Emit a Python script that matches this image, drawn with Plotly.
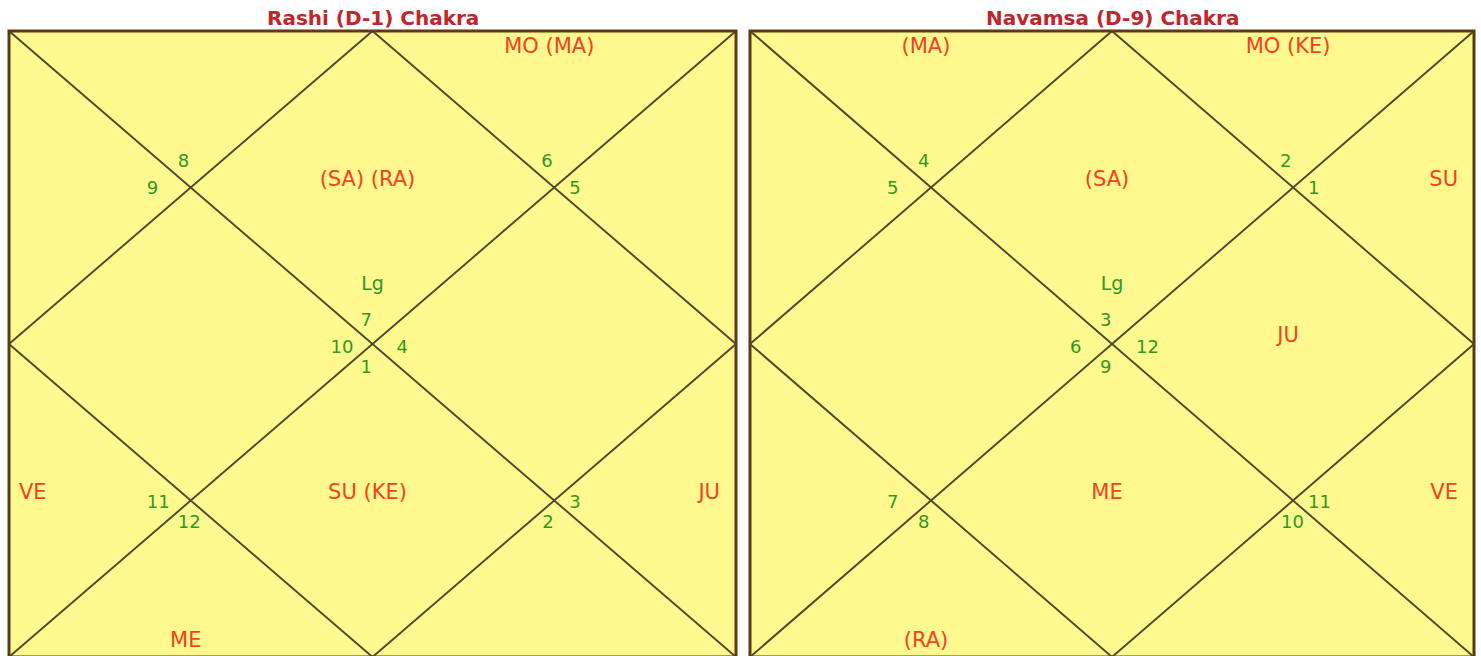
import plotly.graph_objects as go

# ---------------- data ----------------
chart_titles = ["Rashi (D-1) Chakra", "Navamsa (D-9) Chakra"]
# sign number occupying each house (house 1 .. 12)
rashi_signs = [7, 8, 9, 10, 11, 12, 1, 2, 3, 4, 5, 6]
navamsa_signs = [3, 4, 5, 6, 7, 8, 9, 10, 11, 12, 1, 2]
# planets in each house (house 1 .. 12)
rashi_planets = ["(SA) (RA)", "", "", "", "VE", "ME", "SU (KE)", "", "JU", "", "", "MO (MA)"]
navamsa_planets = ["(SA)", "(MA)", "", "", "", "(RA)", "ME", "", "VE", "JU", "SU", "MO (KE)"]
lagna_houses = [1, 1]
lagna_label = "Lg"

# ---------------- style / layout ----------------
PAGE_W, PAGE_H = 1481, 656
PANELS = [(9, 31, 736, 657), (750, 31, 1474, 657)]  # x0, y0, x1, y1 in page px
BG = "#FFF98F"
BORDER = "#5C3A16"
LINE = "#54442A"
TITLE_C = "#C0262B"
PLANET_C = "#F2431E"
NUM_C = "#2F9A1F"
FONT = "DejaVu Sans, Verdana, sans-serif"

# number placement: intersection (unit) + pixel offset, text starts at point (left aligned)
NUM_POS = {
    1: (0.5, 0.5, -12, -23), 2: (0.25, 0.25, -13, -25), 3: (0.25, 0.25, -44, 2),
    4: (0.5, 0.5, -42, 4), 5: (0.25, 0.75, -44, 3), 6: (0.25, 0.75, -13, 23),
    7: (0.5, 0.5, -12, 24), 8: (0.75, 0.75, -12, 23), 9: (0.75, 0.75, 15, 3),
    10: (0.5, 0.5, 24, 4), 11: (0.75, 0.25, 15, 2), 12: (0.75, 0.25, -13, -25),
}
# planet placement kinds
PLANET_POS = {
    1: ("diamond", 0.5, 0.25), 4: ("diamond", 0.25, 0.5), 7: ("diamond", 0.5, 0.75),
    10: ("diamond", 0.75, 0.5),
    2: ("top", 0.25, 0), 12: ("top", 0.75, 0),
    6: ("bottom", 0.25, 1), 8: ("bottom", 0.75, 1),
    3: ("left", 0, 0.25), 5: ("left", 0, 0.75),
    9: ("right", 1, 0.75), 11: ("right", 1, 0.25),
}


def to_px(panel, u, v):
    x0, y0, x1, y1 = panel
    return x0 + u * (x1 - x0), y0 + v * (y1 - y0)


def planet_anchor(panel, house):
    kind, u, v = PLANET_POS[house]
    x, y = to_px(panel, u, v)
    if kind == "diamond":
        return x - 5, y - 7, "middle center"
    if kind == "top":
        return x - 5, panel[1] + 17, "middle center"
    if kind == "bottom":
        return x - 5, panel[3] - 15, "middle center"
    if kind == "left":
        return panel[0] + 10, y - 7, "middle right"
    return panel[2] - 16, y - 7, "middle left"


fig = go.Figure()
shapes = []
annotations = []

charts = [(rashi_signs, rashi_planets), (navamsa_signs, navamsa_planets)]
for ci, (signs, planets) in enumerate(charts):
    p = PANELS[ci]
    x0, y0, x1, y1 = p
    shapes.append(dict(type="rect", x0=x0, y0=y0, x1=x1, y1=y1, fillcolor=BG,
                       line=dict(width=0), layer="below", xref="x", yref="y"))
    pts = [((0, 0), (1, 1)), ((1, 0), (0, 1)),
           ((0.5, 0), (1, 0.5)), ((1, 0.5), (0.5, 1)), ((0.5, 1), (0, 0.5)), ((0, 0.5), (0.5, 0))]
    for a, b in pts:
        ax, ay = to_px(p, *a)
        bx, by = to_px(p, *b)
        shapes.append(dict(type="line", x0=ax, y0=ay, x1=bx, y1=by,
                           line=dict(color=LINE, width=1.9), xref="x", yref="y"))
    shapes.append(dict(type="rect", x0=x0, y0=y0, x1=x1, y1=y1,
                       line=dict(color=BORDER, width=3), xref="x", yref="y"))

    # title
    tx, _ = to_px(p, 0.5, 0)
    annotations.append(dict(x=tx, y=18, xref="x", yref="y", text=chart_titles[ci],
                            showarrow=False, font=dict(family=FONT, size=20, color=TITLE_C, weight="bold")))

    # house sign numbers
    nx, ny = [], []
    for h in range(1, 13):
        iu, iv, dx, dy = NUM_POS[h]
        x, y = to_px(p, iu, iv)
        nx.append(x + dx)
        ny.append(y + dy)
    fig.add_trace(go.Scatter(x=nx, y=ny, mode="text", text=[str(s) for s in signs],
                             textposition="middle right", marker=dict(size=0),
                             textfont=dict(family=FONT, size=18, color=NUM_C),
                             hoverinfo="skip", showlegend=False, cliponaxis=False))

    # planets
    px_, py_, pt_, tp_ = [], [], [], []
    for h in range(1, 13):
        if planets[h - 1]:
            x, y, tp = planet_anchor(p, h)
            px_.append(x); py_.append(y); pt_.append(planets[h - 1]); tp_.append(tp)
    fig.add_trace(go.Scatter(x=px_, y=py_, mode="text", text=pt_, textposition=tp_,
                             marker=dict(size=0),
                             textfont=dict(family=FONT, size=21, color=PLANET_C),
                             hoverinfo="skip", showlegend=False, cliponaxis=False))

    # lagna marker
    lu, lv, _, _ = NUM_POS[lagna_houses[ci]]
    lx, ly = to_px(p, lu, lv)
    fig.add_trace(go.Scatter(x=[lx], y=[ly - 59], mode="text", text=[lagna_label],
                             textposition="middle center",
                             textfont=dict(family=FONT, size=19, color=NUM_C),
                             hoverinfo="skip", showlegend=False))

fig.update_layout(
    width=PAGE_W, height=PAGE_H,
    margin=dict(l=0, r=0, t=0, b=0),
    paper_bgcolor="white", plot_bgcolor="white",
    xaxis=dict(range=[0, PAGE_W], visible=False, fixedrange=True),
    yaxis=dict(range=[PAGE_H, 0], visible=False, fixedrange=True),
    shapes=shapes, annotations=annotations,
)

fig.write_html(
    "out.html",
    config={"displayModeBar": False},
    post_script="document.body.style.margin='0px';document.body.style.overflow='hidden';",
)
